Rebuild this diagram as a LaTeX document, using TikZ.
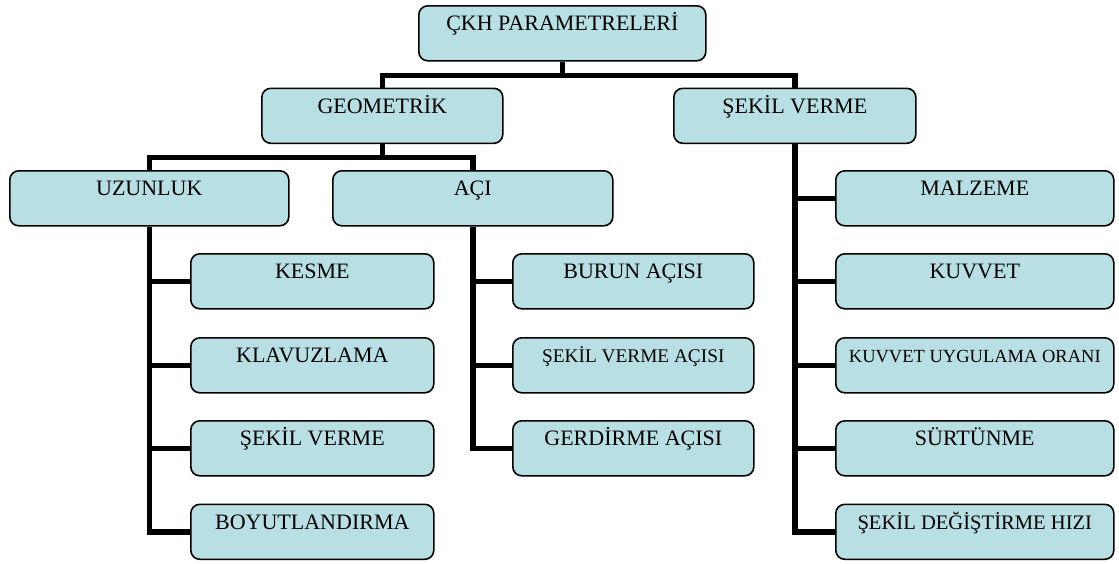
\documentclass[tikz,border=0pt]{standalone}
\usepackage{fontspec}
\setmainfont{Liberation Serif}
\definecolor{boxc}{RGB}{184,223,227}
\pgfdeclarelayer{bg}
\pgfsetlayers{bg,main}
\tikzset{
  box/.style={draw=black, line width=1.6pt, fill=boxc, rounded corners=9pt,
    inner xsep=0pt, inner ysep=0pt, text height=25pt, text depth=30pt,
    minimum height=55pt, anchor=north west, font=\fontsize{22}{26}\selectfont},
  conn/.style={line width=5.5pt, draw=black, line join=miter}
}
\begin{document}
\begin{tikzpicture}[x=1pt,y=-1pt]
\useasboundingbox (0,0) rectangle (1119,563);
% level 0
\node[box, minimum width=287pt] (root) at (418,5) {ÇKH PARAMETRELERİ};
% level 1
\node[box, minimum width=241pt] (geo) at (261,87.5) {GEOMETRİK};
\node[box, minimum width=242pt] (sv) at (673,87.5) {ŞEKİL VERME};
% level 2
\node[box, minimum width=279pt] (uz) at (9,170) {UZUNLUK};
\node[box, minimum width=280pt] (aci) at (332,170) {AÇI};
% uzunluk children
\node[box, minimum width=243pt] (kes) at (190,253) {KESME};
\node[box, minimum width=243pt] (klv) at (190,337) {KLAVUZLAMA};
\node[box, minimum width=243pt] (skv) at (190,420) {ŞEKİL VERME};
\node[box, minimum width=243pt] (boy) at (190,503.5) {BOYUTLANDIRMA};
% aci children
\node[box, minimum width=241pt] (bur) at (512,253) {BURUN AÇISI};
\node[box, minimum width=241pt, font=\fontsize{19.3}{23}\selectfont] (sva) at (512,337) {ŞEKİL VERME AÇISI};
\node[box, minimum width=241pt] (ger) at (512,420) {GERDİRME AÇISI};
% sekil verme children
\node[box, minimum width=278pt] (mal) at (835,170) {MALZEME};
\node[box, minimum width=278pt] (kuv) at (835,253) {KUVVET};
\node[box, minimum width=278pt, font=\fontsize{18.5}{22}\selectfont] (kuo) at (835,337) {KUVVET UYGULAMA ORANI};
\node[box, minimum width=278pt] (sur) at (835,420) {SÜRTÜNME};
\node[box, minimum width=278pt, font=\fontsize{20.6}{24}\selectfont] (sdh) at (835,503.5) {ŞEKİL DEĞİŞTİRME HIZI};
\begin{pgfonlayer}{bg}
\draw[conn] (root.south) -- ++(0,14) coordinate (j0);
\draw[conn] (j0) -| (geo.north);
\draw[conn] (j0) -| (sv.north);
\draw[conn] (geo.south) -- ++(0,13.5) coordinate (j1);
\draw[conn] (j1) -| (uz.north);
\draw[conn] (j1) -| (aci.north);
\draw[conn] (uz.south) |- (kes.west);
\draw[conn] (uz.south) |- (klv.west);
\draw[conn] (uz.south) |- (skv.west);
\draw[conn] (uz.south) |- (boy.west);
\draw[conn] (aci.south) |- (bur.west);
\draw[conn] (aci.south) |- (sva.west);
\draw[conn] (aci.south) |- (ger.west);
\draw[conn] (sv.south) |- (mal.west);
\draw[conn] (sv.south) |- (kuv.west);
\draw[conn] (sv.south) |- (kuo.west);
\draw[conn] (sv.south) |- (sur.west);
\draw[conn] (sv.south) |- (sdh.west);
\end{pgfonlayer}
\end{tikzpicture}
\end{document}
